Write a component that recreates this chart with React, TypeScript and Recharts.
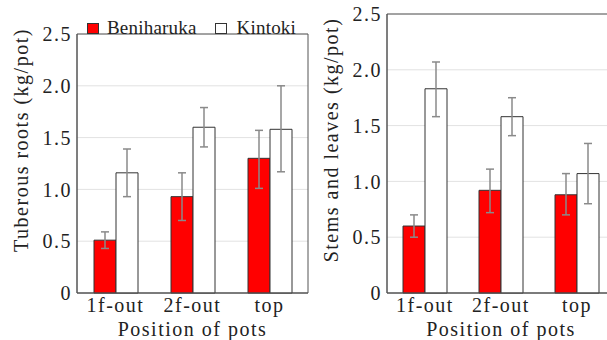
import React from 'react';
import { BarChart, Bar, XAxis, YAxis, CartesianGrid, ErrorBar, Legend, ReferenceArea } from 'recharts';

const positions = ['1f-out', '2f-out', 'top'];

// tuberous roots (kg/pot)
const rootsBeni = [0.51, 0.93, 1.3];
const rootsBeniLow = [0.43, 0.7, 1.01];
const rootsBeniHigh = [0.59, 1.16, 1.57];
const rootsKin = [1.16, 1.6, 1.58];
const rootsKinLow = [0.93, 1.41, 1.17];
const rootsKinHigh = [1.39, 1.79, 2.0];

// stems and leaves (kg/pot)
const stemsBeni = [0.6, 0.92, 0.88];
const stemsBeniLow = [0.5, 0.72, 0.7];
const stemsBeniHigh = [0.7, 1.11, 1.07];
const stemsKin = [1.83, 1.58, 1.07];
const stemsKinLow = [1.58, 1.41, 0.8];
const stemsKinHigh = [2.07, 1.75, 1.34];

const yTicks = [0, 0.5, 1.0, 1.5, 2.0, 2.5];

const FONT = 'Liberation Serif';
const TXT = '#222';
const FS = 20;
const LS = 1.5;

const buildRows = (
  beni: number[], beniLo: number[], beniHi: number[],
  kin: number[], kinLo: number[], kinHi: number[],
) =>
  positions.map((p, i) => ({
    pos: p,
    beni: beni[i],
    beniErr: [beni[i] - beniLo[i], beniHi[i] - beni[i]],
    kin: kin[i],
    kinErr: [kin[i] - kinLo[i], kinHi[i] - kin[i]],
  }));

const rootsData = buildRows(rootsBeni, rootsBeniLow, rootsBeniHigh, rootsKin, rootsKinLow, rootsKinHigh);
const stemsData = buildRows(stemsBeni, stemsBeniLow, stemsBeniHigh, stemsKin, stemsKinLow, stemsKinHigh);

const LegendBox = () => (
  <div style={{ display: 'flex', alignItems: 'center', fontFamily: FONT, fontSize: 19, letterSpacing: 0.2, color: TXT, lineHeight: '20px', whiteSpace: 'nowrap' }}>
    <span style={{ width: 12, height: 11, background: '#ff0000', border: '1px solid #333', boxSizing: 'border-box', marginRight: 8 }} />
    <span style={{ marginRight: 18 }}>Beniharuka</span>
    <span style={{ width: 12, height: 11, background: '#fff', border: '1px solid #333', boxSizing: 'border-box', marginRight: 10 }} />
    <span>Kintoki</span>
  </div>
);

// eslint-disable-next-line @typescript-eslint/no-explicit-any
const yLabel = (text: string) => (props: any) => {
  const vb = props.viewBox || {};
  return (
    <text
      transform={`translate(${(vb.x ?? 0) + 21},140) rotate(-90)`}
      textAnchor="middle"
      dominantBaseline="central"
      fontFamily={FONT}
      fontSize={FS}
      letterSpacing={LS}
      fill={TXT}
    >
      {text}
    </text>
  );
};

// eslint-disable-next-line @typescript-eslint/no-explicit-any
const xLabel = (props: any) => {
  const vb = props.viewBox || {};
  return (
    <text
      x={vb.x + vb.width / 2}
      y={336}
      textAnchor="middle"
      fontFamily={FONT}
      fontSize={FS}
      letterSpacing={LS}
      fill={TXT}
    >
      Position of pots
    </text>
  );
};

const Panel: React.FC<{ data: typeof rootsData; title: string; legend?: boolean; right: number }> = ({ data, title, legend, right }) => (
  <BarChart
    width={310}
    height={340}
    data={data}
    margin={{ top: 14, right, bottom: 0, left: 0 }}
    barGap={0}
    barSize={22}
  >
    <CartesianGrid vertical={false} stroke="#e2e2e2" />
    <XAxis
      dataKey="pos"
      height={47}
      tickLine={false}
      tickSize={0}
      tickMargin={5}
      axisLine={{ stroke: '#555' }}
      tick={{ fontFamily: FONT, fontSize: FS, letterSpacing: LS, fill: TXT }}
      label={xLabel}
    />
    <YAxis
      width={77}
      domain={[0, 2.5]}
      ticks={yTicks}
      tickLine={false}
      tickSize={0}
      tickMargin={5}
      axisLine={{ stroke: '#555' }}
      tickFormatter={(v: number) => (v === 0 ? '0' : v.toFixed(1))}
      tick={{ fontFamily: FONT, fontSize: FS, letterSpacing: LS, fill: TXT }}
      label={yLabel(title)}
    />
    <ReferenceArea y1={0} y2={2.5} fill="none" stroke="#555" strokeWidth={1} ifOverflow="visible" />
    {legend && (
      <Legend
        verticalAlign="top"
        content={() => <LegendBox />}
        wrapperStyle={{ position: 'absolute', top: 18, left: 87, width: 'auto' }}
      />
    )}
    <Bar dataKey="beni" fill="#ff0000" stroke="#333" strokeWidth={1} isAnimationActive={false}>
      <ErrorBar dataKey="beniErr" width={4} stroke="#8a8a8a" strokeWidth={1.5} direction="y" isAnimationActive={false} />
    </Bar>
    <Bar dataKey="kin" fill="#ffffff" stroke="#333" strokeWidth={1} isAnimationActive={false}>
      <ErrorBar dataKey="kinErr" width={4} stroke="#8a8a8a" strokeWidth={1.5} direction="y" isAnimationActive={false} />
    </Bar>
  </BarChart>
);

export default function App() {
  return (
    <div style={{ position: 'fixed', left: 0, top: 0, width: 607, height: 340, overflow: 'hidden', background: '#fff' }}>
      <div style={{ position: 'absolute', left: 0, top: 0 }}>
        <Panel data={rootsData} title="Tuberous roots (kg/pot)" legend right={2} />
      </div>
      <div style={{ position: 'absolute', left: 310, top: 0 }}>
        <Panel data={stemsData} title="Stems and leaves (kg/pot)" right={5} />
      </div>
    </div>
  );
}
